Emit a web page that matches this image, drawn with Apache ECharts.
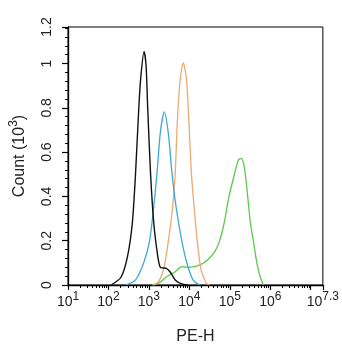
<!DOCTYPE html>
<html>
<head>
<meta charset="utf-8">
<script src="https://cdn.jsdelivr.net/npm/echarts@6/dist/echarts.min.js"></script>
<style>
  html, body { margin: 0; padding: 0; background: #fff; }
  #chart { width: 342px; height: 350px; }
</style>
</head>
<body>
<div id="chart"></div>
<script>
// PE-H histograms: x is log10(PE-H), y is count in thousands.
const blackTrace = [
  [2.07, 0], [2.31, 0.035], [2.47, 0.128], [2.59, 0.28], [2.67, 0.505], [2.75, 0.80],
  [2.80, 0.94], [2.88, 1.055], [2.93, 0.99], [2.97, 0.80], [3.04, 0.505], [3.12, 0.28],
  [3.22, 0.128], [3.28, 0.08], [3.35, 0.077], [3.43, 0.075], [3.52, 0.06], [3.65, 0.023],
  [3.81, 0.005], [3.96, 0]
];
const blueTrace = [
  [2.43, 0], [2.67, 0.023], [2.88, 0.105], [3.02, 0.203], [3.12, 0.354], [3.20, 0.505],
  [3.28, 0.685], [3.38, 0.782], [3.48, 0.685], [3.57, 0.505], [3.67, 0.354], [3.81, 0.203],
  [3.93, 0.105], [4.09, 0.023], [4.25, 0]
];
const orangeTrace = [
  [3.12, 0], [3.24, 0.015], [3.36, 0.068], [3.46, 0.173], [3.57, 0.324], [3.65, 0.505],
  [3.70, 0.73], [3.77, 0.925], [3.85, 1.004], [3.93, 0.925], [3.99, 0.73], [4.05, 0.505],
  [4.13, 0.324], [4.21, 0.173], [4.29, 0.068], [4.42, 0.008], [4.50, 0]
];
const greenTrace = [
  [3.08, 0], [3.24, 0.008], [3.44, 0.037], [3.65, 0.06], [3.81, 0.083], [3.93, 0.08],
  [4.13, 0.083], [4.29, 0.093], [4.45, 0.113], [4.62, 0.148], [4.74, 0.196], [4.86, 0.28],
  [4.98, 0.40], [5.10, 0.49], [5.21, 0.564], [5.28, 0.572], [5.34, 0.549], [5.40, 0.474],
  [5.45, 0.384], [5.51, 0.279], [5.59, 0.19], [5.67, 0.098], [5.75, 0.037], [5.83, 0]
];

// Axis ticks (x in decades)
const xDecadeTicks = [1, 2, 3, 4, 5, 6, 7, 7.3];
const xDecadeLabels = [1, 2, 3, 4, 5, 6, 7.3];
const yTickValues = [0, 0.2, 0.4, 0.6, 0.8, 1];
const yTickLabels = ['0', '0.2', '0.4', '0.6', '0.8', '1', '1.2'];

const X_MIN = 1, X_MAX = 7.3;
const Y_MAX = 1.165;

// logarithmic minor ticks (2..9 in each decade)
const xMinorTicks = [];
for (let d = 1; d <= 7; d++) {
  for (let k = 2; k <= 9; k++) {
    const v = d + Math.log10(k);
    if (v < X_MAX) xMinorTicks.push(+v.toFixed(4));
  }
}
const yMinorTicks = [];
for (let v = 0; v <= Y_MAX + 1e-9; v += 0.04) yMinorTicks.push(+v.toFixed(2));

const FONT = "'Liberation Sans Narrow', 'Arial Narrow', 'Liberation Sans', Arial, sans-serif";
const NAME_FONT = "'Liberation Sans', Arial, sans-serif";
const TXT = '#222';

const yLabelPositions = yTickValues.concat([Y_MAX]);

const chart = echarts.init(document.getElementById('chart'), null, { renderer: 'canvas' });

function lineSeries(data, color, width) {
  return {
    type: 'line', data: data, showSymbol: false, smooth: 0.25,
    lineStyle: { color: color, width: width }, z: 3, animation: false
  };
}

chart.setOption({
  animation: false,
  backgroundColor: '#fff',
  grid: { left: 66, right: 16, top: 27, bottom: 65, show: true, borderColor: '#000', borderWidth: 1 },
  xAxis: [{
    type: 'value', min: X_MIN, max: X_MAX,
    axisLine: { onZero: false, lineStyle: { color: '#000', width: 1.3 } },
    axisTick: { customValues: xDecadeTicks, length: 5, lineStyle: { color: '#000', width: 1.2 } },
    splitLine: { show: false },
    axisLabel: {
      customValues: xDecadeLabels, margin: 6, color: TXT, fontFamily: FONT,
      formatter: v => '{b|10}{s|' + v + '}',
      rich: {
        b: { fontSize: 14, fontFamily: FONT, color: TXT, lineHeight: 18, verticalAlign: 'bottom' },
        s: { fontSize: 12, fontFamily: FONT, color: TXT, lineHeight: 12, verticalAlign: 'top' }
      }
    },
    name: 'PE-H', nameLocation: 'middle', nameGap: 44,
    nameTextStyle: { fontSize: 16, fontFamily: NAME_FONT, color: TXT }
  }, {
    type: 'value', min: X_MIN, max: X_MAX, position: 'bottom',
    axisLine: { show: false },
    axisTick: { customValues: xMinorTicks, length: 3, lineStyle: { color: '#000', width: 1 } },
    axisLabel: { show: false }, splitLine: { show: false }
  }],
  yAxis: [{
    type: 'value', min: 0, max: Y_MAX,
    axisLine: { show: true, lineStyle: { color: '#000', width: 1.3 } },
    axisTick: { show: true, customValues: yLabelPositions, length: 6, lineStyle: { color: '#000', width: 1.2 } },
    splitLine: { show: false },
    axisLabel: {
      customValues: yLabelPositions, rotate: 90, margin: 14, fontSize: 14, fontFamily: FONT, color: TXT,
      formatter: (v) => {
        const i = yLabelPositions.findIndex(p => Math.abs(p - v) < 1e-6);
        return i >= 0 ? yTickLabels[i] : '';
      }
    },
    name: '{a|Count (10}{s|3}{a|)}', nameLocation: 'middle', nameGap: 40,
    nameTextStyle: {
      rich: {
        a: { fontSize: 16, fontFamily: NAME_FONT, color: TXT, lineHeight: 20, verticalAlign: 'bottom' },
        s: { fontSize: 12, fontFamily: NAME_FONT, color: TXT, lineHeight: 12, verticalAlign: 'top' }
      }
    }
  }, {
    type: 'value', min: 0, max: Y_MAX, position: 'left',
    axisLine: { show: false },
    axisTick: { show: true, customValues: yMinorTicks, length: 3, lineStyle: { color: '#000', width: 1 } },
    axisLabel: { show: false }, splitLine: { show: false }
  }],
  series: [
    lineSeries(greenTrace, '#5dc94e', 1.3),
    lineSeries(orangeTrace, '#eea872', 1.3),
    lineSeries(blueTrace, '#3ea8d6', 1.3),
    lineSeries(blackTrace, '#111111', 1.4)
  ]
});
</script>
</body>
</html>
